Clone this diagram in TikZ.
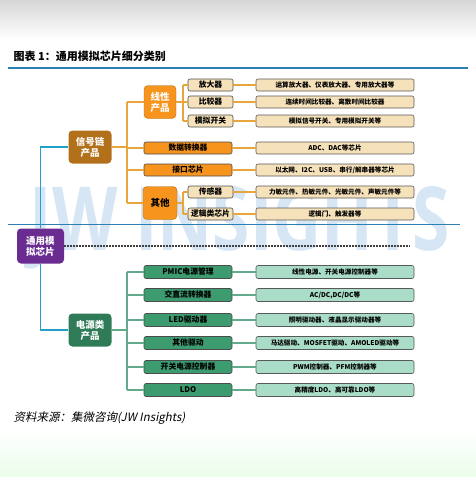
\documentclass[tikz,border=0pt]{standalone}
\usepackage{fontspec}
\usepackage{graphicx}
\setmainfont{Noto Sans CJK SC}
\newfontfamily\cjkit{Noto Sans CJK SC}[FakeSlant=0.2]
\newfontfamily\wmfont{Open Sans}
\definecolor{orgfill}{HTML}{F7941D}
\definecolor{orgline}{HTML}{E7A53C}
\definecolor{tanfill}{HTML}{F6E2BA}
\definecolor{brnfill}{HTML}{B3701B}
\definecolor{grnfill}{HTML}{3C9C70}
\definecolor{grnline}{HTML}{63A98B}
\definecolor{ltgfill}{HTML}{A9DDC7}
\definecolor{dkgfill}{HTML}{2F7A57}
\definecolor{purfill}{HTML}{6A2C91}
\definecolor{rulebl}{HTML}{2C80B4}
\definecolor{trunkbl}{HTML}{21A0C9}
\definecolor{wmblue}{HTML}{D6E6F5}
\begin{document}
\begin{tikzpicture}[x=1pt,y=-1pt,
    big/.style={rounded corners=4pt, minimum width=#1, minimum height=33pt,
      inner sep=0pt, align=center, font=\bfseries\fontsize{9.5}{11}\selectfont},
    big/.default=43pt,
    cat/.style={rounded corners=2pt, draw=black!70, line width=0.6pt,
      minimum height=12pt, inner sep=0pt, font=\bfseries\fontsize{7.8}{9}\selectfont},
    desc/.style={rounded corners=2pt, draw=black!65, line width=0.6pt,
      minimum width=158pt, minimum height=12pt, inner sep=0pt,
      font=\bfseries\fontsize{6.6}{8}\selectfont},
    olink/.style={draw=orgline, line width=1.1pt},
    glink/.style={draw=grnline, line width=1.1pt}]
  \useasboundingbox (0,0) rectangle (476,477);
  \fill[top color=black!16, bottom color=white] (0,0) rectangle (476,40);
  \fill[top color=white, bottom color=black!12!green!8] (0,430) rectangle (476,477);
  \node[text=wmblue, inner sep=0pt] (wm) at (240,228)
    {\resizebox{420pt}{64pt}{\wmfont\bfseries JW INSIGHTS}};

  % title and source
  \node[anchor=west, font=\bfseries\fontsize{11}{13}\selectfont] (ttl) at (10,56)
    {图表 1：通用模拟芯片细分类别};
  \draw[rulebl, line width=1.3pt] (8,68) -- (468,68);
  \draw[rulebl, line width=1pt] (8,224) -- (460,224);
  \node[anchor=west, font=\cjkit\fontsize{11.5}{13}\selectfont] (src) at (10,418)
    {资料来源：集微咨询(JW Insights)};

  % signal chain
  \node[big, fill=brnfill, text=white] (sig) at (90,147) {信号链\\产品};
  \node[big=32pt, fill=orgfill, draw=brnfill, text=white] (lin) at (160,102) {线性\\产品};
  \node[big=34pt, fill=orgfill, draw=brnfill] (oth) at (160,203) {其他};
  \node[cat, fill=tanfill, minimum width=45pt] (amp) at (210.5,85) {放大器};
  \node[cat, fill=tanfill, minimum width=45pt] (cmp) at (210.5,102) {比较器};
  \node[cat, fill=tanfill, minimum width=45pt] (sw) at (210.5,121) {模拟开关};
  \node[cat, fill=orgfill, minimum width=88pt] (adc) at (188,148) {数据转换器};
  \node[cat, fill=orgfill, minimum width=88pt] (ifc) at (188,170) {接口芯片};
  \node[cat, fill=tanfill, minimum width=45pt] (sen) at (210.5,192) {传感器};
  \node[cat, fill=tanfill, minimum width=45pt] (lgc) at (210.5,214) {逻辑类芯片};
  \node[desc, fill=tanfill] (ampd) at (335,85) {运算放大器、仪表放大器、专用放大器等};
  \node[desc, fill=tanfill] (cmpd) at (335,102) {连续时间比较器、离散时间比较器};
  \node[desc, fill=tanfill] (swd) at (335,121) {模拟信号开关、专用模拟开关等};
  \node[desc, fill=tanfill] (adcd) at (335,148) {ADC、DAC等芯片};
  \node[desc, fill=tanfill] (ifcd) at (335,170) {以太网、I2C、USB、串行/解串器等芯片};
  \node[desc, fill=tanfill] (send) at (335,192) {力敏元件、热敏元件、光敏元件、声敏元件等};
  \node[desc, fill=tanfill] (lgcd) at (335,214) {逻辑门、触发器等};

  % root
  \node[big=47pt, minimum height=35pt, fill=purfill, text=white] (gen) at (40.5,246) {通用模\\拟芯片};
  \coordinate (dotend) at (410,0);
  \draw[black!75, line width=1.4pt, dash pattern=on 1.4pt off 1.6pt] (gen.east) -- (gen.east -| dotend);

  % power
  \node[big, fill=dkgfill, text=white] (pwr) at (90,330) {电源类\\产品};
  \foreach \nm/\y/\ca/\de in {pmic/272/PMIC电源管理/线性电源、开关电源控制器等,
      acdc/295/交直流转换器/{AC/DC,DC/DC等},
      led/320/LED驱动器/照明驱动器、液晶显示驱动器等,
      drv/343/其他驱动/马达驱动、MOSFET驱动、AMOLED驱动等,
      smps/367/开关电源控制器/PWM控制器、PFM控制器等,
      ldo/390/LDO/高精度LDO、高可靠LDO等} {
    \node[cat, fill=grnfill, minimum width=88pt, minimum height=13pt] (\nm) at (188,\y) {\ca};
    \node[desc, fill=ltgfill, minimum height=13pt] (\nm d) at (335,\y) {\de};
    \draw[glink] (\nm.east) -- (\nm d.west);
  }

  % connectors
  \coordinate (trk) at (127,0);
  \coordinate (lbr) at (183,0);
  \draw[trunkbl, line width=1.1pt] (sig.west) -| (gen.north);
  \draw[trunkbl, line width=1.1pt] (gen.south) |- (pwr.west);
  \begin{scope}[olink]
    \draw (sig.east) -- (sig.east -| trk);
    \draw (lin.west -| trk) -- (oth.west -| trk);
    \foreach \n in {lin,adc,ifc,oth}
      \draw (\n.west -| trk) -- (\n.west);
    \draw (lin.east) -- (lin.east -| lbr);
    \draw (amp.west -| lbr) -- (sw.west -| lbr);
    \draw (oth.east) -- (oth.east -| lbr);
    \draw (sen.west -| lbr) -- (lgc.west -| lbr);
    \foreach \n in {amp,cmp,sw,sen,lgc}
      \draw (\n.west -| lbr) -- (\n.west);
    \foreach \n in {amp,cmp,sw,adc,ifc,sen,lgc}
      \draw (\n.east) -- (\n d.west);
  \end{scope}
  \begin{scope}[glink]
    \draw (pwr.east) -- (pwr.east -| trk);
    \draw (pmic.west -| trk) -- (ldo.west -| trk);
    \foreach \n in {pmic,acdc,led,drv,smps,ldo}
      \draw (\n.west -| trk) -- (\n.west);
  \end{scope}
\end{tikzpicture}
\end{document}
